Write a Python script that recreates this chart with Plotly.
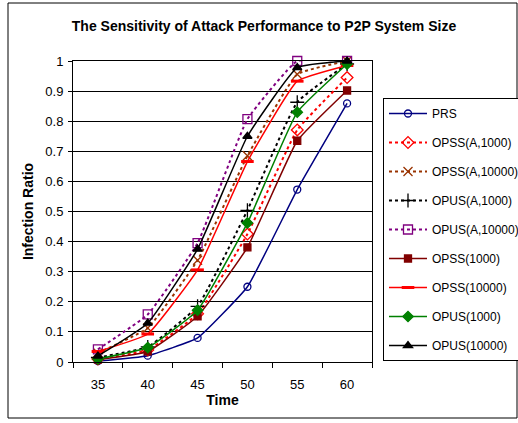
import plotly.graph_objects as go

times = ["35", "40", "45", "50", "55", "60"]
PRS = [0.003, 0.021, 0.08, 0.25, 0.573, 0.859]
OPSS_A1000 = [0.01, 0.04, 0.16, 0.425, 0.771, 0.945]
OPSS_A10000 = [0.03, 0.113, 0.338, 0.685, 0.956, 1.0]
OPUS_A1000 = [0.015, 0.05, 0.185, 0.504, 0.863, 0.99]
OPUS_A10000 = [0.042, 0.158, 0.395, 0.807, 1.0, 1.0]
OPSS_1000 = [0.008, 0.035, 0.152, 0.381, 0.735, 0.902]
OPSS_10000 = [0.035, 0.093, 0.306, 0.666, 0.933, 0.985]
OPUS_1000 = [0.01, 0.048, 0.172, 0.462, 0.83, 0.99]
OPUS_10000 = [0.02, 0.129, 0.375, 0.75, 0.978, 1.0]

series = [
    ("PRS", PRS, "#000080", "solid", "circle-open", 7),
    ("OPSS(A,1000)", OPSS_A1000, "#FF0000", "dot", "diamond-open", 9),
    ("OPSS(A,10000)", OPSS_A10000, "#993300", "dot", "x-thin-open", 9),
    ("OPUS(A,1000)", OPUS_A1000, "#000000", "dot", "cross-thin-open", 10),
    ("OPUS(A,10000)", OPUS_A10000, "#800080", "dot", "square-open", 9),
    ("OPSS(1000)", OPSS_1000, "#800000", "solid", "square", 7),
    ("OPSS(10000)", OPSS_10000, "#FF0000", "solid", "line-ew-open", 9),
    ("OPUS(1000)", OPUS_1000, "#008000", "solid", "diamond", 8),
    ("OPUS(10000)", OPUS_10000, "#000000", "solid", "triangle-up", 8),
]

fig = go.Figure()
for i, (name, vals, color, dash, sym, size) in enumerate(series):
    fig.add_trace(go.Scatter(
        x=times, y=vals, name=name, mode="lines+markers",
        legendgroup=f"g{i}", cliponaxis=False,
        line=dict(color=color, width=1.5 if dash == "solid" else 2, dash=dash,
                  shape="spline", smoothing=0.35),
        marker=dict(symbol=sym, size=size, color=color,
                    line=dict(color=color, width=3 if sym == "line-ew-open" else 1.3)),
    ))

font = "Arial, Liberation Sans, sans-serif"
fig.update_layout(
    width=518, height=423,
    margin=dict(l=73, r=146, t=61, b=61, autoexpand=False),
    paper_bgcolor="white", plot_bgcolor="white",
    font=dict(family=font, size=12, color="black"),
    title=dict(text="<b>The Sensitivity of Attack Performance to P2P System Size</b>",
               x=264 / 518, xanchor="center", y=1 - 26 / 423, yanchor="middle",
               font=dict(size=14, family=font)),
    xaxis=dict(type="category", range=[-0.5, 5.5], showgrid=False,
               showline=True, linecolor="black", linewidth=1, mirror=True,
               ticks="outside", ticklen=5, tickcolor="black", tickson="boundaries",
               ticklabelstandoff=10,
               title=dict(text="<b>Time</b>", standoff=4, font=dict(size=14)),
               tickfont=dict(size=13)),
    yaxis=dict(range=[0, 1], dtick=0.1, showgrid=True, gridcolor="black", gridwidth=1,
               showline=True, linecolor="black", linewidth=1, mirror=True,
               ticks="outside", ticklen=4, tickcolor="black", zeroline=False,
               ticklabelstandoff=2,
               title=dict(text="<b>Infection Ratio</b>", standoff=8, font=dict(size=14)),
               tickfont=dict(size=13)),
    legend=dict(x=(383 - 73) / 299, y=(362 - 98) / 301, xanchor="left", yanchor="top",
                bordercolor="black", borderwidth=1, bgcolor="white",
                tracegroupgap=10, font=dict(size=12, family=font), itemwidth=38),
    showlegend=True,
)
# outer chart border
fig.add_shape(type="rect", xref="paper", yref="paper",
              x0=(8 - 73) / 299, x1=(517 - 73) / 299,
              y0=(362 - 418) / 301, y1=(362 - 3) / 301,
              line=dict(color="black", width=1), layer="below")

fig.write_html("out.html")
